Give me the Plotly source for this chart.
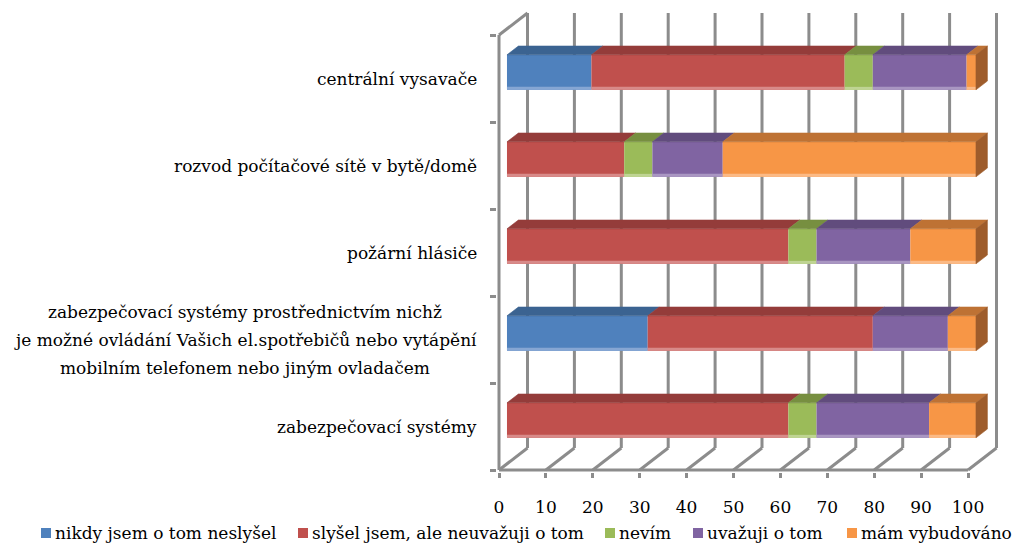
import plotly.graph_objects as go

# --- data -------------------------------------------------------------
categories = [
    "centrální vysavače",
    "rozvod počítačové sítě v bytě/domě",
    "požární hlásiče",
    "zabezpečovací systémy prostřednictvím nichž\nje možné ovládání Vašich el.spotřebičů nebo vytápění\nmobilním telefonem nebo jiným ovladačem",
    "zabezpečovací systémy",
]
series_names = [
    "nikdy jsem o tom neslyšel",
    "slyšel jsem, ale neuvažuji o tom",
    "nevím",
    "uvažuji o tom",
    "mám vybudováno",
]
nikdy = [18, 0, 0, 30, 0]
slysel = [54, 25, 60, 48, 60]
nevim = [6, 6, 6, 0, 6]
uvazuji = [20, 15, 20, 16, 24]
mam = [2, 54, 14, 6, 10]
x_ticks = list(range(0, 101, 10))

series_values = [nikdy, slysel, nevim, uvazuji, mam]

# --- styling ----------------------------------------------------------
front_colors = ["#4F81BD", "#C0504D", "#9BBB59", "#8064A2", "#F79646"]
top_colors = ["#3B6391", "#943C3A", "#778F40", "#614C7D", "#BE7234"]
side_colors = ["#2F507A", "#7A302E", "#5F7333", "#4E3D66", "#9E5C2B"]
strip_colors = ["#86A6D3", "#D88A89", "#BFD493", "#A996C2", "#FBBA86"]
frame_color = "#8c8c8c"
font_family = "DejaVu Serif"
font_size = 17

W, H = 1020, 545
PX_PER_X = 4.69          # pixels per percentage point
PX_PER_ROW = 87.0        # pixels per category row
X0_PX, Y0_PX = 499, 470  # front corner (0 %, bottom boundary)
PLOT_L, PLOT_R, PLOT_T, PLOT_B = 497, 1005, 8, 472

x_range = [(PLOT_L - X0_PX) / PX_PER_X, (PLOT_R - X0_PX) / PX_PER_X]
y_range = [-0.5 - (PLOT_B - Y0_PX) / PX_PER_ROW, -0.5 + (Y0_PX - PLOT_T) / PX_PER_ROW]

# 3-D depth of the box (in axis units) and where the bars sit inside it
DEPTH_X = 28.5 / PX_PER_X
DEPTH_Y = 22.0 / PX_PER_ROW
BAR_FRONT = 0.28
BAR_BACK = 0.68
BAR_H = 35.0 / PX_PER_ROW

n = len(categories)
row_pos = [n - 1 - i for i in range(n)]

fig = go.Figure()

shift_x = BAR_FRONT * DEPTH_X
shift_y = BAR_FRONT * DEPTH_Y
dd_x = (BAR_BACK - BAR_FRONT) * DEPTH_X
dd_y = (BAR_BACK - BAR_FRONT) * DEPTH_Y

# cumulative starts of each stacked segment
starts = []
cum = [0.0] * n
for vals in series_values:
    starts.append(list(cum))
    cum = [c + v for c, v in zip(cum, vals)]

# front faces of the stacked bars
for j, vals in enumerate(series_values):
    fig.add_trace(go.Bar(
        orientation="h",
        y=[p + shift_y for p in row_pos],
        x=vals,
        base=[s + shift_x for s in starts[j]],
        width=BAR_H,
        marker=dict(color=front_colors[j], line=dict(width=0)),
        name=series_names[j],
        showlegend=False,
        hoverinfo="skip",
    ))

# top faces, lighter bottom edge and the right end cap
for j, vals in enumerate(series_values):
    for i, v in enumerate(vals):
        if v <= 0:
            continue
        x0 = starts[j][i] + shift_x
        x1 = x0 + v
        yc = row_pos[i] + shift_y
        yt = yc + BAR_H / 2
        yb = yc - BAR_H / 2
        fig.add_trace(go.Scatter(
            x=[x0, x1, x1 + dd_x, x0 + dd_x, x0],
            y=[yt, yt, yt + dd_y, yt + dd_y, yt],
            mode="lines", fill="toself", fillcolor=top_colors[j],
            line=dict(width=0.6, color=top_colors[j]),
            showlegend=False, hoverinfo="skip",
        ))
        fig.add_trace(go.Scatter(
            x=[x0, x1], y=[yb + 1.5 / PX_PER_ROW] * 2,
            mode="lines", line=dict(width=3, color=strip_colors[j]),
            showlegend=False, hoverinfo="skip",
        ))

for i in range(n):
    last = max(j for j in range(len(series_values)) if series_values[j][i] > 0)
    e = cum[i] + shift_x
    yc = row_pos[i] + shift_y
    yt = yc + BAR_H / 2
    yb = yc - BAR_H / 2
    fig.add_trace(go.Scatter(
        x=[e, e + dd_x, e + dd_x, e, e],
        y=[yb, yb + dd_y, yt + dd_y, yt, yb],
        mode="lines", fill="toself", fillcolor=side_colors[last],
        line=dict(width=0.6, color=side_colors[last]),
        showlegend=False, hoverinfo="skip",
    ))

# box frame: floor, back wall gridlines, left wall edges
shapes = []
line_style = dict(color=frame_color, width=3)
y_bot, y_top = -0.5, n - 0.5
shapes.append(dict(type="line", xref="x", yref="y", x0=0, x1=100, y0=y_bot, y1=y_bot,
                   line=line_style, layer="below"))
shapes.append(dict(type="line", xref="x", yref="y", x0=0, x1=0, y0=y_bot, y1=y_top,
                   line=line_style, layer="below"))
shapes.append(dict(type="line", xref="x", yref="y", x0=0, x1=DEPTH_X, y0=y_top, y1=y_top + DEPTH_Y,
                   line=line_style, layer="below"))
for t in x_ticks:
    shapes.append(dict(type="line", xref="x", yref="y", x0=t, x1=t + DEPTH_X,
                       y0=y_bot, y1=y_bot + DEPTH_Y, line=line_style, layer="below"))
    shapes.append(dict(type="line", xref="x", yref="y", x0=t + DEPTH_X, x1=t + DEPTH_X,
                       y0=y_bot + DEPTH_Y, y1=y_top + DEPTH_Y, line=line_style, layer="below"))

# legend keys
def px_to_paper_x(px):
    return (px - PLOT_L) / (PLOT_R - PLOT_L)

def px_to_paper_y(py):
    return (PLOT_B - py) / (PLOT_B - PLOT_T)

legend_x_px = [41, 298, 605, 693, 847]
legend_y_px = 533
annotations = []
for j, name in enumerate(series_names):
    sx = legend_x_px[j]
    shapes.append(dict(type="rect", xref="paper", yref="paper",
                       x0=px_to_paper_x(sx), x1=px_to_paper_x(sx + 10),
                       y0=px_to_paper_y(legend_y_px + 5), y1=px_to_paper_y(legend_y_px - 5),
                       fillcolor=front_colors[j], line=dict(width=0)))
    annotations.append(dict(text=name, xref="paper", yref="paper",
                            x=px_to_paper_x(sx + 12), y=px_to_paper_y(legend_y_px),
                            xanchor="left", yanchor="middle", showarrow=False,
                            font=dict(family=font_family, size=font_size, color="black")))

# category labels beside the left wall
for i, label in enumerate(categories):
    lines = label.split("\n")
    if len(lines) == 1:
        annotations.append(dict(text=label, xref="paper", yref="y",
                                x=px_to_paper_x(479), y=row_pos[i],
                                xanchor="right", yanchor="middle", showarrow=False,
                                font=dict(family=font_family, size=font_size, color="black")))
    else:
        mid = (len(lines) - 1) / 2
        for k, ln in enumerate(lines):
            annotations.append(dict(text=ln, xref="paper", yref="y",
                                    x=px_to_paper_x(245), y=row_pos[i],
                                    yshift=(mid - k) * 28,
                                    xanchor="center", yanchor="middle", showarrow=False,
                                    font=dict(family=font_family, size=font_size, color="black")))

fig.update_layout(
    width=W, height=H,
    margin=dict(l=PLOT_L, r=W - PLOT_R, t=PLOT_T, b=H - PLOT_B, pad=0),
    paper_bgcolor="white", plot_bgcolor="white",
    barmode="overlay",
    showlegend=False,
    shapes=shapes,
    annotations=annotations,
    xaxis=dict(range=x_range, showgrid=False, zeroline=False, showline=False,
               tickmode="array", tickvals=x_ticks, ticktext=[str(t) for t in x_ticks],
               ticks="outside", ticklen=5, tickwidth=3, tickcolor=frame_color,
               ticklabelstandoff=15,
               tickfont=dict(family=font_family, size=font_size, color="black"),
               fixedrange=True),
    yaxis=dict(range=y_range, showgrid=False, zeroline=False, showline=False,
               tickmode="array", tickvals=[k - 0.5 for k in range(n + 1)],
               showticklabels=False,
               ticks="outside", ticklen=6, tickwidth=3, tickcolor=frame_color,
               fixedrange=True),
)

fig.write_html("out.html", config={"displayModeBar": False})
